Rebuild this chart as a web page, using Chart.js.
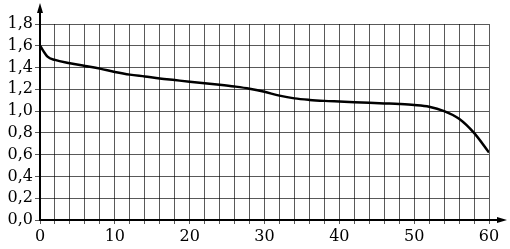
<!DOCTYPE html>
<html>
<head>
<meta charset="utf-8">
<script src="https://cdn.jsdelivr.net/npm/chart.js@4"></script>
<style>
  html, body { margin: 0; padding: 0; background: #fff; }
  #wrap { width: 510px; height: 249px; }
</style>
</head>
<body>
<div id="wrap"><canvas id="chart" width="510" height="249"></canvas></div>
<script>
const xValues = [0, 1, 2, 4, 6, 8, 10, 12, 14, 16, 18, 20, 22, 24, 26, 28, 30, 32, 34, 36, 38, 40, 42, 44, 46, 48, 50, 52, 54, 56, 58, 60];
const yValues = [1.60, 1.50, 1.47, 1.44, 1.415, 1.39, 1.36, 1.335, 1.318, 1.30, 1.285, 1.27, 1.256, 1.242, 1.226, 1.206, 1.177, 1.142, 1.117, 1.103, 1.094, 1.088, 1.082, 1.077, 1.071, 1.065, 1.056, 1.04, 1.00, 0.93, 0.80, 0.62];
const xTickLabels = ['0', '10', '20', '30', '40', '50', '60'];
const yTickLabels = ['0,0', '0,2', '0,4', '0,6', '0,8', '1,0', '1,2', '1,4', '1,6', '1,8'];

const points = xValues.map((x, i) => ({ x: x, y: yValues[i] }));
const font = { family: "'DejaVu Serif', 'Liberation Serif', serif", size: 16 };

// arrows on the axes
const arrows = {
    id: 'arrows',
    afterDraw(chart) {
        const ctx = chart.ctx;
        const a = chart.chartArea;
        ctx.save();
        ctx.strokeStyle = '#000';
        ctx.fillStyle = '#000';
        ctx.lineWidth = 2;
        ctx.beginPath();
        ctx.moveTo(a.left, a.top);
        ctx.lineTo(a.left, 8);
        ctx.moveTo(a.right, a.bottom);
        ctx.lineTo(502, a.bottom);
        ctx.stroke();
        ctx.beginPath();
        ctx.moveTo(a.left, 3);
        ctx.lineTo(a.left - 3, 13);
        ctx.lineTo(a.left + 3, 13);
        ctx.closePath();
        ctx.fill();
        ctx.beginPath();
        ctx.moveTo(507, a.bottom);
        ctx.lineTo(497, a.bottom - 3);
        ctx.lineTo(497, a.bottom + 3);
        ctx.closePath();
        ctx.fill();
        ctx.restore();
    }
};

new Chart(document.getElementById('chart'), {
    type: 'line',
    data: {
        datasets: [{
            data: points,
            borderColor: '#000',
            borderWidth: 2.5,
            pointRadius: 0,
            fill: false,
            cubicInterpolationMode: 'monotone'
        }]
    },
    options: {
        responsive: false,
        animation: false,
        layout: { padding: { top: 24, right: 21, left: 0, bottom: 0 } },
        plugins: { legend: { display: false }, tooltip: { enabled: false } },
        scales: {
            x: {
                type: 'linear',
                min: 0,
                max: 60,
                afterFit: s => { s.height = 29; },
                border: { color: '#000', width: 2 },
                grid: { color: 'rgba(0,0,0,0.65)', lineWidth: 1, tickLength: 4 },
                ticks: {
                    stepSize: 2,
                    autoSkip: false,
                    maxRotation: 0,
                    padding: 3,
                    color: '#000',
                    font: font,
                    callback: v => (v % 10 === 0 ? xTickLabels[v / 10] : '')
                }
            },
            y: {
                min: 0,
                max: 1.8,
                afterFit: s => { s.width = 40; },
                border: { color: '#000', width: 2 },
                grid: { color: 'rgba(0,0,0,0.65)', lineWidth: 1, tickLength: 5 },
                ticks: {
                    stepSize: 0.2,
                    autoSkip: false,
                    padding: 2,
                    color: '#000',
                    font: font,
                    callback: v => yTickLabels[Math.round(v * 5)]
                }
            }
        }
    },
    plugins: [arrows]
});
</script>
</body>
</html>
